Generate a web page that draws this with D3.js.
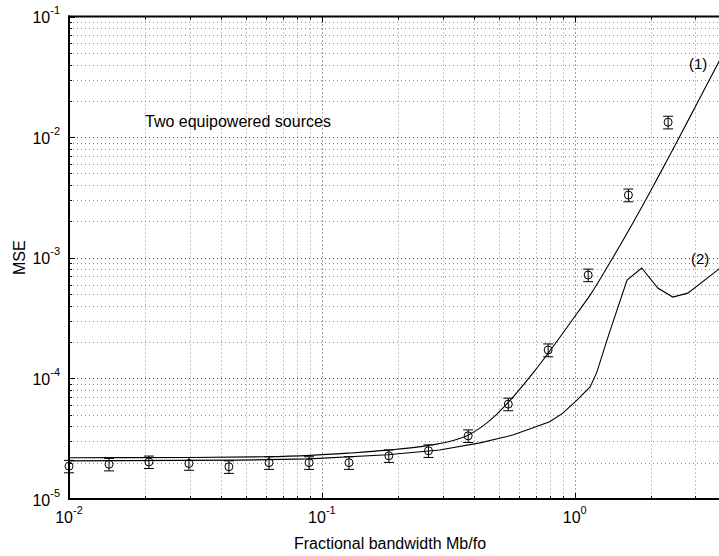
<!DOCTYPE html>
<html>
<head>
<meta charset="utf-8">
<script src="https://cdn.jsdelivr.net/npm/d3@7"></script>
<style>
  html, body { margin: 0; padding: 0; background: #fff; }
  svg { display: block; font-family: "Liberation Sans", Arial, Helvetica, sans-serif; }
</style>
</head>
<body>
<svg id="chart" width="719" height="556"></svg>
<script>
// Measured points: fractional bandwidth vs. MSE, with error bars
const bandwidth = [0.01, 0.0144, 0.0207, 0.0298, 0.0429, 0.0618, 0.089, 0.128, 0.184, 0.264, 0.379, 0.546, 0.785, 1.13, 1.63, 2.34];
const mseMeasured = [1.87e-5, 1.94e-5, 2.03e-5, 1.97e-5, 1.85e-5, 2.0e-5, 2.0e-5, 2.0e-5, 2.28e-5, 2.51e-5, 3.34e-5, 6.12e-5, 1.72e-4, 7.19e-4, 3.31e-3, 1.33e-2];
const mseError = [0.22e-5, 0.23e-5, 0.24e-5, 0.24e-5, 0.22e-5, 0.24e-5, 0.24e-5, 0.24e-5, 0.27e-5, 0.30e-5, 0.40e-5, 0.73e-5, 2.1e-5, 0.86e-4, 0.40e-3, 1.6e-3];

// Theoretical curve (1)
const curve1X = [0.01, 0.03, 0.06, 0.09, 0.127, 0.182, 0.262, 0.316, 0.38, 0.43, 0.49, 0.543, 0.682, 0.819, 1.02, 1.15, 1.41, 2.01, 2.315, 2.53, 2.99, 3.71, 4.0];
const curve1Y = [2.20e-5, 2.21e-5, 2.24e-5, 2.30e-5, 2.40e-5, 2.54e-5, 2.77e-5, 2.98e-5, 3.4e-5, 3.98e-5, 5.0e-5, 6.25e-5, 1.1e-4, 1.82e-4, 3.45e-4, 4.9e-4, 9.9e-4, 3.68e-3, 6.4e-3, 9.08e-3, 1.77e-2, 4.19e-2, 5.68e-2];

// Theoretical curve (2)
const curve2X = [0.01, 0.047, 0.089, 0.182, 0.292, 0.422, 0.569, 0.796, 0.897, 1.02, 1.15, 1.22, 1.37, 1.61, 1.84, 2.13, 2.44, 2.80, 3.67, 4.0];
const curve2Y = [2.07e-5, 2.10e-5, 2.15e-5, 2.33e-5, 2.55e-5, 2.92e-5, 3.39e-5, 4.37e-5, 5.15e-5, 6.6e-5, 8.5e-5, 1.11e-4, 2.38e-4, 6.53e-4, 8.22e-4, 5.61e-4, 4.72e-4, 5.09e-4, 7.9e-4, 9.2e-4];

// Axis tick exponents (labels are 10^exp)
const xTickExp = [-2, -1, 0];
const yTickExp = [-5, -4, -3, -2, -1];

const xLabel = "Fractional bandwidth Mb/fo";
const yLabel = "MSE";
const noteText = "Two equipowered sources";
const curveLabels = ["(1)", "(2)"];

const svg = d3.select("#chart");
const plotLeft = 69, plotRight = 727, plotTop = 16.5, plotBottom = 499;

const x = d3.scaleLog().domain([0.01, 4]).range([plotLeft, plotRight]);
const y = d3.scaleLog().domain([1e-5, 1e-1]).range([plotBottom, plotTop]);

const isMajor = v => Math.abs(Math.log10(v) - Math.round(Math.log10(v))) < 1e-9;
const snap = p => Math.round(p) + 0.5;

svg.append("defs").append("clipPath").attr("id", "plotClip")
  .append("rect").attr("x", plotLeft).attr("y", plotTop)
  .attr("width", plotRight - plotLeft).attr("height", plotBottom - plotTop);

// Grid (dotted, major and minor)
const grid = svg.append("g").attr("class", "grid");
x.ticks().filter(v => v > 0.01 && v < 4).forEach(v => {
  const px = snap(x(v));
  grid.append("line")
    .attr("x1", px).attr("x2", px).attr("y1", plotTop).attr("y2", plotBottom)
    .attr("stroke", isMajor(v) ? "#444" : "#8a8a8a")
    .attr("stroke-width", 1)
    .attr("stroke-dasharray", "1,3");
});
y.ticks().filter(v => v > 1e-5 && v < 1e-1).forEach(v => {
  const py = snap(y(v));
  grid.append("line")
    .attr("x1", plotLeft).attr("x2", plotRight).attr("y1", py).attr("y2", py)
    .attr("stroke", isMajor(v) ? "#444" : "#8a8a8a")
    .attr("stroke-width", 1)
    .attr("stroke-dasharray", "1,3");
});

// Ticks pointing inward
const ticks = svg.append("g").attr("stroke", "#000").attr("stroke-width", 1);
x.ticks().forEach(v => {
  const px = snap(x(v));
  const len = isMajor(v) ? 6 : 3;
  ticks.append("line").attr("x1", px).attr("x2", px).attr("y1", plotBottom).attr("y2", plotBottom - len);
  ticks.append("line").attr("x1", px).attr("x2", px).attr("y1", plotTop).attr("y2", plotTop + len);
});
y.ticks().forEach(v => {
  const py = snap(y(v));
  const len = isMajor(v) ? 6 : 3;
  ticks.append("line").attr("x1", plotLeft).attr("x2", plotLeft + len).attr("y1", py).attr("y2", py);
});

// Curves: (1) smooth, (2) piecewise linear
const curves = svg.append("g").attr("clip-path", "url(#plotClip)");
curves.append("path")
  .datum(d3.zip(curve1X, curve1Y))
  .attr("d", d3.line().x(d => x(d[0])).y(d => y(d[1])).curve(d3.curveMonotoneX))
  .attr("fill", "none").attr("stroke", "#000").attr("stroke-width", 1.1);
curves.append("path")
  .datum(d3.zip(curve2X, curve2Y))
  .attr("d", d3.line().x(d => x(d[0])).y(d => y(d[1])))
  .attr("fill", "none").attr("stroke", "#000").attr("stroke-width", 1.1);

// Measured points with error bars
const pts = svg.append("g").attr("stroke", "#000").attr("stroke-width", 1).attr("fill", "none");
bandwidth.forEach((bw, i) => {
  const cx = x(bw);
  const cy = y(mseMeasured[i]);
  const yHi = y(mseMeasured[i] + mseError[i]);
  const yLo = y(mseMeasured[i] - mseError[i]);
  const g = pts.append("g");
  g.append("line").attr("x1", cx).attr("x2", cx).attr("y1", yHi).attr("y2", yLo);
  g.append("line").attr("x1", cx - 5).attr("x2", cx + 5).attr("y1", yHi).attr("y2", yHi);
  g.append("line").attr("x1", cx - 5).attr("x2", cx + 5).attr("y1", yLo).attr("y2", yLo);
  g.append("circle").attr("cx", cx).attr("cy", cy).attr("r", 4);
});

// Axis lines
const axes = svg.append("g").attr("stroke", "#000").attr("stroke-width", 2).attr("fill", "none");
axes.append("line").attr("x1", plotLeft).attr("x2", plotLeft).attr("y1", plotTop - 1).attr("y2", plotBottom + 1);
axes.append("line").attr("x1", plotLeft - 1).attr("x2", plotRight).attr("y1", plotBottom).attr("y2", plotBottom);
axes.append("line").attr("x1", plotLeft - 1).attr("x2", plotRight).attr("y1", plotTop).attr("y2", plotTop);

// Tick labels
const labels = svg.append("g").attr("fill", "#000").attr("font-size", 16);
xTickExp.forEach(e => {
  const t = labels.append("text")
    .attr("x", x(Math.pow(10, e))).attr("y", plotBottom + 24)
    .attr("text-anchor", "middle");
  t.append("tspan").text("10");
  t.append("tspan").attr("dy", -9).attr("font-size", 11).text(String(e));
});
yTickExp.forEach(e => {
  const t = labels.append("text")
    .attr("x", plotLeft - 9).attr("y", y(Math.pow(10, e)) + 6.5)
    .attr("text-anchor", "end");
  t.append("tspan").text("10");
  t.append("tspan").attr("dy", -9).attr("font-size", 11).text(String(e));
});

// Axis titles
labels.append("text")
  .attr("x", (plotLeft + plotRight) / 2 - 8).attr("y", 549)
  .attr("text-anchor", "middle").text(xLabel);
labels.append("text")
  .attr("transform", `translate(25,${(plotTop + plotBottom) / 2}) rotate(-90)`)
  .attr("text-anchor", "middle").text(yLabel);

// Annotations
labels.append("text").attr("x", 145).attr("y", 127).text(noteText);
labels.append("text").attr("x", 689).attr("y", 69).attr("font-size", 15).text(curveLabels[0]);
labels.append("text").attr("x", 691).attr("y", 264).attr("font-size", 15).text(curveLabels[1]);
</script>
</body>
</html>
